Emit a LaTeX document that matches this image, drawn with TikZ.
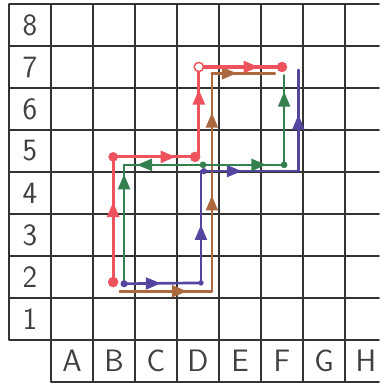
\documentclass[tikz,border=0pt]{standalone}
\usetikzlibrary{arrows.meta,decorations.markings}

\begin{document}
\begin{tikzpicture}[
  line cap=round,
  every node/.style={font=\sffamily\fontsize{21}{24}\selectfont,text=black!75},
  grid line/.style={draw=black!80,line width=1.1pt},
  red path/.style={draw={rgb,255:red,238;green,82;blue,92},line width=2.2pt},
  green path/.style={draw={rgb,255:red,52;green,128;blue,78},line width=1.8pt},
  blue path/.style={draw={rgb,255:red,82;green,70;blue,158},line width=1.8pt},
  brown path/.style={draw={rgb,255:red,172;green,104;blue,62},line width=1.8pt},
  tip at/.style={postaction={decorate,decoration={markings,
      mark=at position #1 with {\arrow{Triangle[length=3.6mm,width=2.8mm]}}}}},
  back tip at/.style={postaction={decorate,decoration={markings,
      mark=at position #1 with {\arrowreversed{Triangle[length=3.6mm,width=2.8mm]}}}}},
  dot/.style={circle,inner sep=0pt,minimum size=#1},
]
\useasboundingbox (-1.214,-1.071) rectangle (7.81,8.095);

% grid
\draw[grid line] (0,-1) grid (7.81,8);
\draw[grid line] (-1,0) grid (0,8);

% row labels
\node (row1) at (-0.5,0.5) {1};
\node (row2) at (-0.5,1.5) {2};
\node (row3) at (-0.5,2.5) {3};
\node (row4) at (-0.5,3.5) {4};
\node (row5) at (-0.5,4.5) {5};
\node (row6) at (-0.5,5.5) {6};
\node (row7) at (-0.5,6.5) {7};
\node (row8) at (-0.5,7.5) {8};

% column labels
\node (colA) at (0.5,-0.5) {A};
\node (colB) at (1.5,-0.5) {B};
\node (colC) at (2.5,-0.5) {C};
\node (colD) at (3.5,-0.5) {D};
\node (colE) at (4.5,-0.5) {E};
\node (colF) at (5.5,-0.5) {F};
\node (colG) at (6.5,-0.5) {G};
\node (colH) at (7.5,-0.5) {H};

% corners of the four paths
\coordinate (r1) at (1.48,1.38);
\coordinate (r2) at (1.48,4.36);
\coordinate (r3) at (3.52,4.36);
\coordinate (r4) at (3.52,6.50);
\coordinate (r5) at (5.50,6.50);

\coordinate (g1) at (1.74,1.38);
\coordinate (g2) at (1.74,4.17);
\coordinate (g3) at (3.62,4.17);
\coordinate (g4) at (5.55,4.17);
\coordinate (g5) at (5.55,6.30);

\coordinate (b1) at (1.74,1.34);
\coordinate (b2) at (3.57,1.36);
\coordinate (b3) at (3.57,4.02);
\coordinate (b4) at (5.89,4.02);
\coordinate (b5) at (5.89,6.43);

\coordinate (n1) at (1.64,1.16);
\coordinate (n2) at (3.83,1.16);
\coordinate (n3) at (3.83,6.35);
\coordinate (n4) at (5.33,6.35);

% brown
\draw[brown path,tip at=0.73] (n1) -- (n2);
\draw[brown path,tip at=0.44,tip at=0.82] (n2) -- (n3);
\draw[brown path,tip at=0.40] (n3) -- (n4);

% blue
\draw[blue path,tip at=0.48] (b1) -- (b2);
\draw[blue path,tip at=0.52] (b2) -- (b3);
\draw[blue path,tip at=0.42] (b3) -- (b4);
\draw[blue path,tip at=0.56] (b4) -- (b5);

% green
\draw[green path,tip at=0.92] (g1) -- (g2);
\draw[green path,back tip at=0.08,tip at=0.89] (g2) -- (g4);
\draw[green path,tip at=0.82] (g4) -- (g5);

% red
\draw[red path,tip at=0.64] (r1) -- (r2);
\draw[red path,tip at=0.73] (r2) -- (r3);
\draw[red path,tip at=0.75] (r3) -- (r4);
\draw[red path,tip at=0.72] (r4) -- (r5);

% dots
\node[dot=2.5mm,fill={rgb,255:red,238;green,82;blue,92}] (rd1) at (r1) {};
\node[dot=2.3mm,fill={rgb,255:red,238;green,82;blue,92}] (rd2) at (r2) {};
\node[dot=2.5mm,fill={rgb,255:red,238;green,82;blue,92}] (rd3) at (3.43,4.36) {};
\node[dot=2.2mm,fill=white,draw={rgb,255:red,238;green,82;blue,92},line width=1pt] (rd4) at (r4) {};
\node[dot=2.5mm,fill={rgb,255:red,238;green,82;blue,92}] (rd5) at (r5) {};
\node[dot=1.6mm,fill={rgb,255:red,52;green,128;blue,78}] (gd3) at (g3) {};
\node[dot=1.6mm,fill={rgb,255:red,52;green,128;blue,78}] (gd4) at (g4) {};
\node[dot=1.7mm,fill={rgb,255:red,82;green,70;blue,158}] (bd1) at (b1) {};
\node[dot=1.3mm,fill={rgb,255:red,82;green,70;blue,158}] (bd2) at (b2) {};
\node[dot=1.5mm,fill={rgb,255:red,82;green,70;blue,158}] (bd3) at (3.64,4.02) {};
\end{tikzpicture}
\end{document}
